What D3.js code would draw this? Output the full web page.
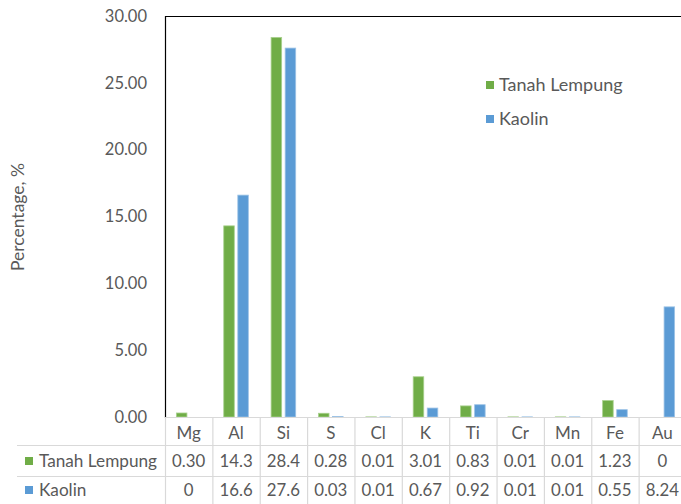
<!DOCTYPE html>
<html>
<head>
<meta charset="utf-8">
<script src="https://cdn.jsdelivr.net/npm/d3@7/dist/d3.min.js"></script>
<style>
  html, body { margin: 0; padding: 0; background: #fff; }
  svg { display: block; }
  text { font-family: Lato, "Open Sans", sans-serif; fill: #595959; }
</style>
</head>
<body>
<svg id="chart" width="681" height="504"></svg>
<script>
// Elements measured in both samples
const categories = ["Mg", "Al", "Si", "S", "Cl", "K", "Ti", "Cr", "Mn", "Fe", "Au"];
const seriesNames = ["Tanah Lempung", "Kaolin"];
// Values as printed in the data table
const tanahLempungText = ["0.30", "14.3", "28.4", "0.28", "0.01", "3.01", "0.83", "0.01", "0.01", "1.23", "0"];
const kaolinText = ["0", "16.6", "27.6", "0.03", "0.01", "0.67", "0.92", "0.01", "0.01", "0.55", "8.24"];
const yTicks = [0, 5, 10, 15, 20, 25, 30];
const colors = ["#70AD47", "#5B9BD5"];
const strokeColors = ["#A9D18E", "#9DC3E6"];

const seriesText = [tanahLempungText, kaolinText];
const seriesValues = seriesText.map(arr => arr.map(Number));

const svg = d3.select("#chart");
const plot = { left: 165, top: 16, width: 521, bottom: 417 };

const x0 = d3.scaleBand()
  .domain(categories)
  .range([plot.left, plot.left + plot.width])
  .paddingInner(0).paddingOuter(0);

const x1 = d3.scaleBand()
  .domain(seriesNames)
  .range([0, x0.bandwidth()])
  .paddingInner(0.25)
  .paddingOuter(0.81);

const y = d3.scaleLinear().domain([0, 30]).range([plot.bottom, plot.top]);

// Y axis labels
const yAxis = d3.axisLeft(y)
  .tickValues(yTicks)
  .tickFormat(d3.format(".2f"))
  .tickSize(0)
  .tickPadding(18);
const gy = svg.append("g")
  .attr("transform", `translate(${plot.left},0)`)
  .call(yAxis);
gy.select(".domain").remove();
gy.selectAll("text")
  .style("font-family", "Lato, sans-serif")
  .style("font-size", "16.5px")
  .attr("fill", "#595959");

// Y axis title
svg.append("text")
  .attr("transform", `translate(24,${217}) rotate(-90)`)
  .attr("text-anchor", "middle")
  .style("font-size", "17.5px")
  .text("Percentage, %");

// Bars
const groups = svg.append("g").selectAll("g")
  .data(categories)
  .join("g")
  .attr("transform", d => `translate(${x0(d)},0)`);

groups.selectAll("rect")
  .data((c, i) => seriesNames.map((s, k) => ({ s, k, v: seriesValues[k][i] })))
  .join("rect")
  .filter(d => d.v > 0)
  .attr("x", d => x1(d.s))
  .attr("width", x1.bandwidth())
  .attr("y", d => y(d.v))
  .attr("height", d => Math.max(0, plot.bottom - y(d.v)))
  .attr("fill", d => colors[d.k])
  .attr("stroke", d => strokeColors[d.k])
  .attr("stroke-width", 0.8);

// Plot frame (left and top edges)
svg.append("line")
  .attr("x1", plot.left + 0.5).attr("x2", plot.left + 0.5)
  .attr("y1", plot.top).attr("y2", plot.bottom + 1)
  .attr("stroke", "#000").attr("stroke-width", 1.2);
svg.append("line")
  .attr("x1", plot.left).attr("x2", plot.left + plot.width)
  .attr("y1", plot.top + 0.5).attr("y2", plot.top + 0.5)
  .attr("stroke", "#000").attr("stroke-width", 1.2);

// Legend
const legend = svg.append("g").attr("transform", "translate(486,0)");
seriesNames.forEach((name, k) => {
  const cy = 85 + k * 34;
  legend.append("rect")
    .attr("x", 0).attr("y", cy - 4).attr("width", 8).attr("height", 8)
    .attr("fill", colors[k]);
  legend.append("text")
    .attr("x", 13).attr("y", cy).attr("dy", "0.35em")
    .style("font-size", "18px")
    .text(name);
});

// Data table
const table = svg.append("g");
const gridColor = "#D9D9D9";
const rowLines = [plot.bottom + 0.5, 445.5, 476.5, 504.5];
rowLines.forEach((ry, i) => {
  table.append("line")
    .attr("x1", i === 0 ? plot.left : 17).attr("x2", plot.left + plot.width)
    .attr("y1", ry).attr("y2", ry)
    .attr("stroke", gridColor).attr("stroke-width", 1.2);
});
categories.forEach(c => {
  table.append("line")
    .attr("x1", x0(c) + 0.5).attr("x2", x0(c) + 0.5)
    .attr("y1", plot.bottom).attr("y2", 504)
    .attr("stroke", gridColor).attr("stroke-width", 1.2);
});
table.append("line")
  .attr("x1", plot.left + plot.width + 0.5).attr("x2", plot.left + plot.width + 0.5)
  .attr("y1", plot.bottom).attr("y2", 504)
  .attr("stroke", gridColor);

// Category header row
table.selectAll(".cat")
  .data(categories)
  .join("text")
  .attr("class", "cat")
  .attr("x", d => x0(d) + x0.bandwidth() / 2)
  .attr("y", 433).attr("dy", "0.35em")
  .attr("text-anchor", "middle")
  .style("font-size", "17px")
  .text(d => d);

// Series rows
const rowY = [461, 490];
seriesNames.forEach((name, k) => {
  table.append("rect")
    .attr("x", 25).attr("y", rowY[k] - 4).attr("width", 8).attr("height", 8)
    .attr("fill", colors[k]);
  table.append("text")
    .attr("x", 39).attr("y", rowY[k]).attr("dy", "0.35em")
    .style("font-size", "17.2px")
    .text(name);
  table.selectAll(".v" + k)
    .data(seriesText[k])
    .join("text")
    .attr("class", "v" + k)
    .attr("x", (d, i) => x0(categories[i]) + x0.bandwidth() / 2)
    .attr("y", rowY[k]).attr("dy", "0.35em")
    .attr("text-anchor", "middle")
    .style("font-size", "16.8px")
    .text(d => d);
});
</script>
</body>
</html>
